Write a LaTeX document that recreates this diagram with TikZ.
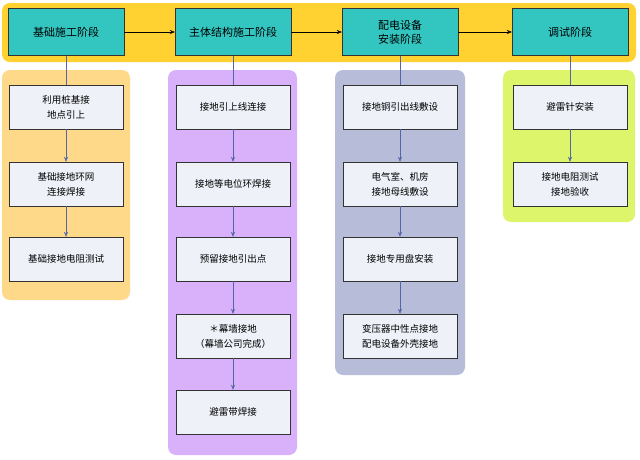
\documentclass[tikz,border=0pt]{standalone}
\usepackage{fontspec}
\setmainfont{Noto Sans CJK SC}
\usetikzlibrary{positioning, arrows.meta}
\definecolor{barylw}{HTML}{FFD232}
\definecolor{stagetl}{HTML}{33C6C0}
\definecolor{panorg}{HTML}{FFD98A}
\definecolor{panpur}{HTML}{D9B0FA}
\definecolor{panblu}{HTML}{B7BDD8}
\definecolor{pangrn}{HTML}{DDF56A}
\definecolor{stepfil}{HTML}{EEF1F8}
\definecolor{linkblu}{HTML}{5566A8}
\tikzset{
  stagebox/.style={draw=black!80, fill=stagetl, minimum width=116pt, minimum height=47pt, font=\fontsize{11}{13}\selectfont, inner sep=1pt},
  stepbox/.style={draw=black!80, fill=stepfil, minimum width=114pt, minimum height=44pt, align=center, font=\fontsize{9.5}{15}\selectfont, inner sep=1pt},
  panel/.style={rounded corners=8pt},
  link/.style={draw=linkblu, -{Stealth[length=5pt,width=4pt]}},
  feed/.style={draw=linkblu}
}
\begin{document}
\begin{tikzpicture}[x=1pt,y=-1pt]
  \useasboundingbox (0,0) rectangle (640,459);
  % top bar
  \fill[barylw, panel] (2,3) rectangle (636,62);
  \node[stagebox] (s1) at (66,32) {基础施工阶段};
  \node[stagebox] (s2) at (233,32) {主体结构施工阶段};
  \node[stagebox, align=center, font=\fontsize{11}{14}\selectfont] (s3) at (400,32) {配电设备\\安装阶段};
  \node[stagebox] (s4) at (570,32) {调试阶段};
  \draw[-{Stealth[length=5pt,width=4pt]}, black] (s1) -- (s2);
  \draw[-{Stealth[length=5pt,width=4pt]}, black] (s2) -- (s3);
  \draw[-{Stealth[length=5pt,width=4pt]}, black] (s3) -- (s4);

  % panels
  \fill[panorg, panel] (2,70) rectangle (130,300);
  \fill[panpur, panel] (168,70) rectangle (297,455);
  \fill[panblu, panel] (335,70) rectangle (465,375);
  \fill[pangrn, panel] (503,70) rectangle (635,222);

  % column 1
  \node[stepbox] (a1) at (66,107) {利用桩基接\\地点引上};
  \node[stepbox] (a2) at (66,184) {基础接地环网\\连接焊接};
  \node[stepbox] (a3) at (66,259) {基础接地电阻测试};
  % column 2
  \node[stepbox] (b1) at (233,107) {接地引上线连接};
  \node[stepbox] (b2) at (233,184) {接地等电位环焊接};
  \node[stepbox] (b3) at (233,259) {预留接地引出点};
  \node[stepbox] (b4) at (233,336) {＊幕墙接地\\（幕墙公司完成）};
  \node[stepbox] (b5) at (233,412) {避雷带焊接};
  % column 3
  \node[stepbox] (c1) at (400,107) {接地铜引出线敷设};
  \node[stepbox] (c2) at (400,184) {电气室、机房\\接地母线敷设};
  \node[stepbox] (c3) at (400,259) {接地专用盘安装};
  \node[stepbox] (c4) at (400,336) {变压器中性点接地\\配电设备外壳接地};
  % column 4
  \node[stepbox] (d1) at (570,107) {避雷针安装};
  \node[stepbox] (d2) at (570,184) {接地电阻测试\\接地验收};

  \draw[feed] (s1) -- (a1);
  \draw[feed] (s2) -- (b1);
  \draw[feed] (s3) -- (c1);
  \draw[feed] (s4) -- (d1);
  \foreach \p/\q in {a1/a2,a2/a3,b1/b2,b2/b3,b3/b4,b4/b5,c1/c2,c2/c3,c3/c4,d1/d2}
    \draw[link] (\p) -- (\q);
\end{tikzpicture}
\end{document}
